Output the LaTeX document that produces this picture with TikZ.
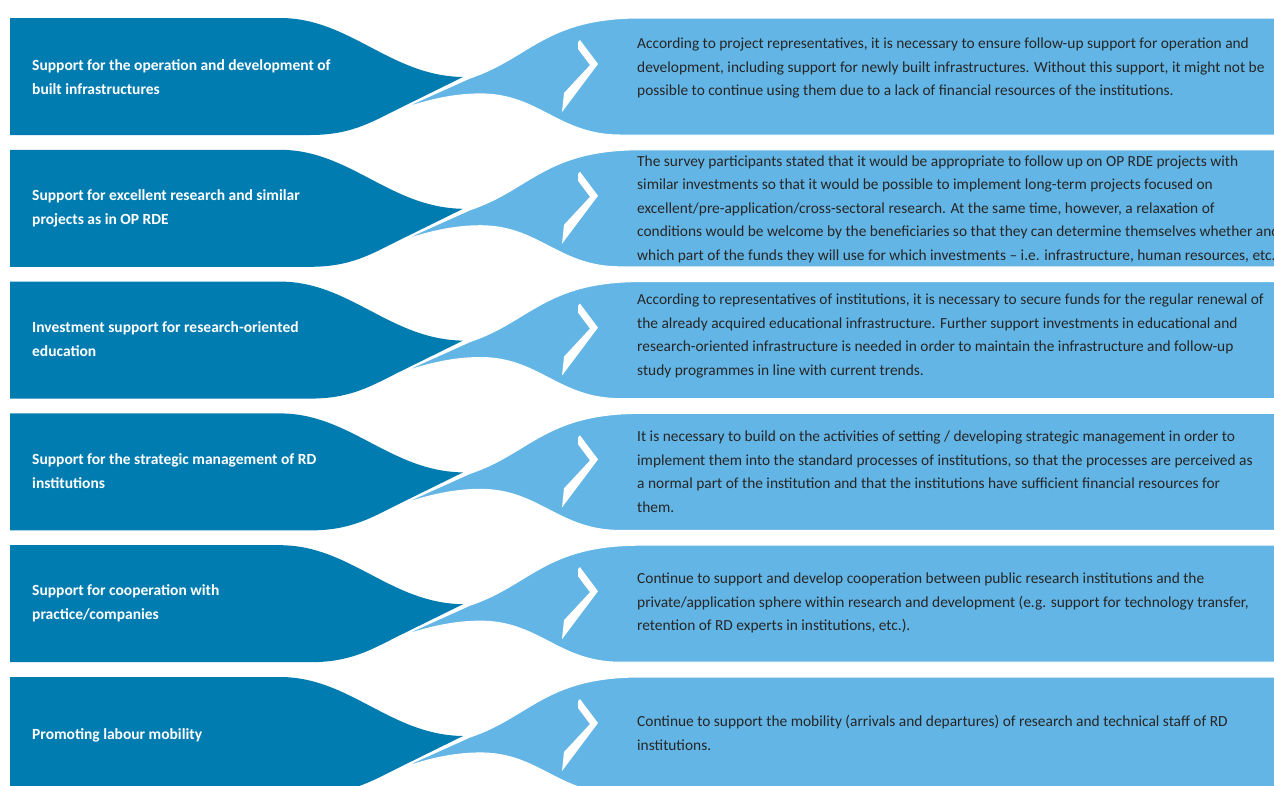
\documentclass[tikz,border=0pt]{standalone}
\usepackage{fontspec}
\setmainfont{Carlito}
\usetikzlibrary{positioning}

\definecolor{darkband}{HTML}{017CB1}
\definecolor{lightband}{HTML}{63B5E5}

\begin{document}
\begin{tikzpicture}[x=1pt, y=-1pt,
	headtext/.style={anchor=west, inner sep=0pt, align=left, text=white, font=\fontsize{15.5}{24}\selectfont\bfseries},
	notetext/.style={anchor=west, inner sep=0pt, align=left, text=black!85, font=\fontsize{15.4}{23.5}\selectfont},
	darkpart/.style={fill=darkband},
	lightpart/.style={fill=lightband, draw=white, line width=1pt},
	chevron/.style={fill=white}
	]
	\useasboundingbox (0,0) rectangle (1274,785);

	% bands
	\foreach \rowtop in {18,149.8,281.6,413.4,545.2,677}{
		\fill [darkpart] (10,\rowtop) -- (280,\rowtop) .. controls (350,\rowtop) and (390,\rowtop+58) .. (463,\rowtop+59)
			-- (398,\rowtop+91) .. controls (370,\rowtop+105) and (350,\rowtop+117) .. (310,\rowtop+117) -- (10,\rowtop+117) -- cycle;
		\filldraw [lightpart] (401,\rowtop+91) -- (470,\rowtop+60) .. controls (530,\rowtop+40) and (545,\rowtop) .. (640,\rowtop)
			-- (1280,\rowtop) -- (1280,\rowtop+117) -- (620,\rowtop+117) .. controls (560,\rowtop+117) and (540,\rowtop+78) .. (485,\rowtop+76)
			.. controls (450,\rowtop+75) and (420,\rowtop+85) .. (401,\rowtop+91) -- cycle;
		\fill [chevron] (578,\rowtop+24) -- (580,\rowtop+22) -- (598,\rowtop+46) -- (562,\rowtop+94) -- (564,\rowtop+75)
			-- (590,\rowtop+47) -- (578,\rowtop+31) -- cycle;
	}

	% left headings
	\node (head1) [headtext] at (32,77) {Support for the operation and development of\\built infrastructures};
	\node (head2) [headtext] at (32,208) {Support for excellent research and similar\\projects as in OP RDE};
	\node (head3) [headtext] at (32,339) {Investment support for research-oriented\\education};
	\node (head4) [headtext] at (32,471) {Support for the strategic management of RD\\institutions};
	\node (head5) [headtext] at (32,603) {Support for cooperation with\\practice/companies};
	\node (head6) [headtext] at (32,735) {Promoting labour mobility};

	% right notes
	\node (note1) [notetext] at (637,68) {According to project representatives, it is necessary to ensure follow-up support for operation and\\development,  including support for newly built infrastructures. Without this support, it might not be\\possible to continue using them due to a lack of financial resources of the institutions.};
	\node (note2) [notetext] at (637,209) {The survey participants stated that it would be appropriate to follow up on OP RDE projects with\\similar investments so that it would be possible to implement long-term projects focused on\\excellent/pre-application/cross-sectoral research. At the same time, however, a relaxation of\\conditions would be welcome by the beneficiaries so that they can determine themselves whether and\\which part of the funds they will use for which investments -- i.e. infrastructure, human resources, etc.};
	\node (note3) [notetext] at (637,336) {According to representatives of institutions, it is necessary to secure funds for the regular renewal of\\the already acquired educational infrastructure. Further support investments in educational and\\research-oriented infrastructure is needed in order to maintain the infrastructure and follow-up\\study programmes in line with current trends.};
	\node (note4) [notetext] at (637,471.5) {It is necessary to build on the activities of setting / developing strategic management in order to\\implement them into the standard processes of institutions, so that the processes are perceived as\\a normal part of the institution and that the institutions have sufficient financial resources for\\them.};
	\node (note5) [notetext] at (637,603) {Continue to support and develop cooperation between public research institutions and the\\private/application sphere within research and development (e.g. support for technology transfer,\\retention of RD experts in institutions, etc.).};
	\node (note6) [notetext] at (637,733) {Continue to support the mobility (arrivals and departures) of research and technical staff of RD\\institutions.};

\end{tikzpicture}
\end{document}
